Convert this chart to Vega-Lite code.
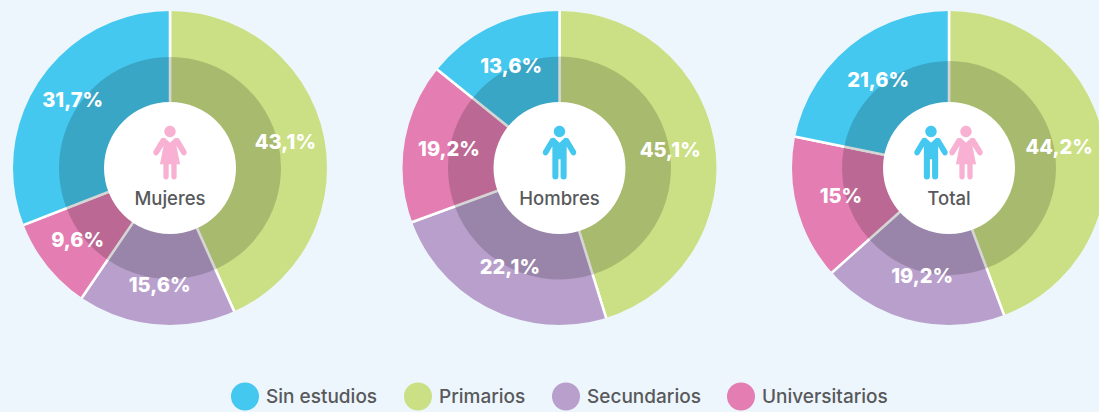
{
"$schema":"https://vega.github.io/schema/vega-lite/v6.json",
"background":"#EDF6FC",
"padding":{"left":3,"top":1,"right":0,"bottom":20},
"datasets":{
"niveles":[
{"grupo":"Mujeres","nivel":"Primarios","orden":1,"porcion":43.3,"etiqueta":"43,1%"},
{"grupo":"Mujeres","nivel":"Secundarios","orden":2,"porcion":16.2,"etiqueta":"15,6%"},
{"grupo":"Mujeres","nivel":"Universitarios","orden":3,"porcion":9.6,"etiqueta":"9,6%"},
{"grupo":"Mujeres","nivel":"Sin estudios","orden":4,"porcion":30.9,"etiqueta":"31,7%"},
{"grupo":"Hombres","nivel":"Primarios","orden":1,"porcion":45.2,"etiqueta":"45,1%"},
{"grupo":"Hombres","nivel":"Secundarios","orden":2,"porcion":24.2,"etiqueta":"22,1%"},
{"grupo":"Hombres","nivel":"Universitarios","orden":3,"porcion":16.4,"etiqueta":"19,2%"},
{"grupo":"Hombres","nivel":"Sin estudios","orden":4,"porcion":14.2,"etiqueta":"13,6%"},
{"grupo":"Total","nivel":"Primarios","orden":1,"porcion":44.3,"etiqueta":"44,2%"},
{"grupo":"Total","nivel":"Secundarios","orden":2,"porcion":19.1,"etiqueta":"19,2%"},
{"grupo":"Total","nivel":"Universitarios","orden":3,"porcion":14.8,"etiqueta":"15%"},
{"grupo":"Total","nivel":"Sin estudios","orden":4,"porcion":21.8,"etiqueta":"21,6%"}
],
"centros":[{"grupo":"Mujeres"},{"grupo":"Hombres"},{"grupo":"Total"}]
},
"config":{"view":{"stroke":null}},
"resolve":{"scale":{"color":"shared"},"legend":{"color":"shared"}},
"spacing":55.5,
"hconcat":[
{"width":314,"height":314,"layer":[
{"data":{"name":"niveles"},"transform":[{"filter":"datum.grupo==='Mujeres'"}],
"mark":{"type":"arc","radius":159,"radius2":60,"stroke":"#ffffff","strokeWidth":2.5},
"encoding":{"theta":{"field":"porcion","type":"quantitative","stack":true},"order":{"field":"orden","type":"ordinal"},
"color":{"field":"nivel","type":"nominal","scale":{"domain":["Sin estudios","Primarios","Secundarios","Universitarios"],"range":["#45C8EF","#CBE084","#B9A0CC","#E37DB2"]},
"legend":{"orient":"none","direction":"horizontal","columns":4,"legendX":218,"legendY":371.5,"title":null,"symbolType":"circle","symbolSize":784,"symbolStrokeWidth":0,"symbolOpacity":1,"labelFont":"Inter","labelFontSize":19,"labelFontWeight":500,"labelColor":"#58595B","labelOffset":7,"columnPadding":26,"padding":0}}}},
{"data":{"name":"centros"},"transform":[{"filter":"datum.grupo==='Mujeres'"}],"mark":{"type":"point","shape":"circle","filled":false,"size":101124,"stroke":"#EDF6FC","strokeWidth":4,"opacity":1},"encoding":{}},
{"data":{"name":"niveles"},"transform":[{"filter":"datum.grupo==='Mujeres'"}],
"mark":{"type":"arc","radius":111,"radius2":60,"fill":"#000000","opacity":0.17},
"encoding":{"theta":{"field":"porcion","type":"quantitative","stack":true},"order":{"field":"orden","type":"ordinal"},"detail":{"field":"nivel"}}},
{"data":{"name":"niveles"},"transform":[{"filter":"datum.grupo==='Mujeres'"}],
"mark":{"type":"text","radius":118,"font":"Inter","fontSize":20,"fontWeight":800,"fill":"#ffffff"},
"encoding":{"theta":{"field":"porcion","type":"quantitative","stack":true},"order":{"field":"orden","type":"ordinal"},"detail":{"field":"nivel"},"text":{"field":"etiqueta"}}},
{"data":{"name":"centros"},"transform":[{"filter":"datum.grupo==='Mujeres'"}],"mark":{"type":"point","shape":"circle","filled":true,"size":17424,"fill":"#ffffff","opacity":1},"encoding":{}},
{"data":{"name":"centros"},"transform":[{"filter":"datum.grupo==='Mujeres'"}],"mark":{"type":"point","filled":true,"opacity":1,"size":2809,"fill":"#F8B0D3","yOffset":-15,"shape":"M0,-0.39 L0.2,-0.58 L0.33,-0.56 L0.62,-0.08 Q0.66,0.04 0.55,0.09 Q0.47,0.11 0.43,0.03 L0.24,-0.27 L0.38,0.42 L0.25,0.42 L0.25,0.9 Q0.25,1 0.15,1 Q0.05,1 0.05,0.9 L0.05,0.42 L-0.05,0.42 L-0.05,0.9 Q-0.05,1 -0.15,1 Q-0.25,1 -0.25,0.9 L-0.25,0.42 L-0.38,0.42 L-0.24,-0.27 L-0.43,0.03 Q-0.47,0.11 -0.55,0.09 Q-0.66,0.04 -0.62,-0.08 L-0.33,-0.56 L-0.2,-0.58 Z M0.215,-0.81 C0.215,-0.692 0.118,-0.595 0,-0.595 C-0.118,-0.595 -0.215,-0.692 -0.215,-0.81 C-0.215,-0.928 -0.118,-1.025 0,-1.025 C0.118,-1.025 0.215,-0.928 0.215,-0.81 Z"},"encoding":{}},
{"data":{"name":"centros"},"transform":[{"filter":"datum.grupo==='Mujeres'"}],"mark":{"type":"text","dy":31,"font":"Inter","fontSize":18.5,"fontWeight":500,"fill":"#58595B"},"encoding":{"text":{"field":"grupo"}}}
]},
{"width":314,"height":314,"layer":[
{"data":{"name":"niveles"},"transform":[{"filter":"datum.grupo==='Hombres'"}],
"mark":{"type":"arc","radius":159,"radius2":60,"stroke":"#ffffff","strokeWidth":2.5},
"encoding":{"theta":{"field":"porcion","type":"quantitative","stack":true},"order":{"field":"orden","type":"ordinal"},
"color":{"field":"nivel","type":"nominal","scale":{"domain":["Sin estudios","Primarios","Secundarios","Universitarios"],"range":["#45C8EF","#CBE084","#B9A0CC","#E37DB2"]}}}},
{"data":{"name":"centros"},"transform":[{"filter":"datum.grupo==='Hombres'"}],"mark":{"type":"point","shape":"circle","filled":false,"size":101124,"stroke":"#EDF6FC","strokeWidth":4,"opacity":1},"encoding":{}},
{"data":{"name":"niveles"},"transform":[{"filter":"datum.grupo==='Hombres'"}],
"mark":{"type":"arc","radius":111.5,"radius2":60,"fill":"#000000","opacity":0.17},
"encoding":{"theta":{"field":"porcion","type":"quantitative","stack":true},"order":{"field":"orden","type":"ordinal"},"detail":{"field":"nivel"}}},
{"data":{"name":"niveles"},"transform":[{"filter":"datum.grupo==='Hombres'"}],
"mark":{"type":"text","radius":112,"font":"Inter","fontSize":20,"fontWeight":800,"fill":"#ffffff"},
"encoding":{"theta":{"field":"porcion","type":"quantitative","stack":true},"order":{"field":"orden","type":"ordinal"},"detail":{"field":"nivel"},"text":{"field":"etiqueta"}}},
{"data":{"name":"centros"},"transform":[{"filter":"datum.grupo==='Hombres'"}],"mark":{"type":"point","shape":"circle","filled":true,"size":17424,"fill":"#ffffff","opacity":1},"encoding":{}},
{"data":{"name":"centros"},"transform":[{"filter":"datum.grupo==='Hombres'"}],"mark":{"type":"point","filled":true,"opacity":1,"size":2809,"fill":"#45C8EF","yOffset":-15,"shape":"M0,-0.39 L0.2,-0.58 L0.33,-0.56 L0.62,-0.08 Q0.66,0.04 0.55,0.09 Q0.47,0.11 0.43,0.03 L0.27,-0.25 L0.27,0.88 Q0.27,1 0.155,1 Q0.04,1 0.04,0.88 L0.04,0.24 L-0.04,0.24 L-0.04,0.88 Q-0.04,1 -0.155,1 Q-0.27,1 -0.27,0.88 L-0.27,-0.25 L-0.43,0.03 Q-0.47,0.11 -0.55,0.09 Q-0.66,0.04 -0.62,-0.08 L-0.33,-0.56 L-0.2,-0.58 Z M0.215,-0.81 C0.215,-0.692 0.118,-0.595 0,-0.595 C-0.118,-0.595 -0.215,-0.692 -0.215,-0.81 C-0.215,-0.928 -0.118,-1.025 0,-1.025 C0.118,-1.025 0.215,-0.928 0.215,-0.81 Z"},"encoding":{}},
{"data":{"name":"centros"},"transform":[{"filter":"datum.grupo==='Hombres'"}],"mark":{"type":"text","dy":31,"font":"Inter","fontSize":18.5,"fontWeight":500,"fill":"#58595B"},"encoding":{"text":{"field":"grupo"}}}
]},
{"width":314,"height":314,"layer":[
{"data":{"name":"niveles"},"transform":[{"filter":"datum.grupo==='Total'"}],
"mark":{"type":"arc","radius":159,"radius2":60,"stroke":"#ffffff","strokeWidth":2.5},
"encoding":{"theta":{"field":"porcion","type":"quantitative","stack":true},"order":{"field":"orden","type":"ordinal"},
"color":{"field":"nivel","type":"nominal","scale":{"domain":["Sin estudios","Primarios","Secundarios","Universitarios"],"range":["#45C8EF","#CBE084","#B9A0CC","#E37DB2"]}}}},
{"data":{"name":"centros"},"transform":[{"filter":"datum.grupo==='Total'"}],"mark":{"type":"point","shape":"circle","filled":false,"size":101124,"stroke":"#EDF6FC","strokeWidth":4,"opacity":1},"encoding":{}},
{"data":{"name":"niveles"},"transform":[{"filter":"datum.grupo==='Total'"}],
"mark":{"type":"arc","radius":107,"radius2":60,"fill":"#000000","opacity":0.17},
"encoding":{"theta":{"field":"porcion","type":"quantitative","stack":true},"order":{"field":"orden","type":"ordinal"},"detail":{"field":"nivel"}}},
{"data":{"name":"niveles"},"transform":[{"filter":"datum.grupo==='Total'"}],
"mark":{"type":"text","radius":112,"font":"Inter","fontSize":20,"fontWeight":800,"fill":"#ffffff"},
"encoding":{"theta":{"field":"porcion","type":"quantitative","stack":true},"order":{"field":"orden","type":"ordinal"},"detail":{"field":"nivel"},"text":{"field":"etiqueta"}}},
{"data":{"name":"centros"},"transform":[{"filter":"datum.grupo==='Total'"}],"mark":{"type":"point","shape":"circle","filled":true,"size":17424,"fill":"#ffffff","opacity":1},"encoding":{}},
{"data":{"name":"centros"},"transform":[{"filter":"datum.grupo==='Total'"}],"mark":{"type":"point","filled":true,"opacity":1,"size":2809,"fill":"#45C8EF","xOffset":-18,"yOffset":-15,"shape":"M0,-0.39 L0.2,-0.58 L0.33,-0.56 L0.62,-0.08 Q0.66,0.04 0.55,0.09 Q0.47,0.11 0.43,0.03 L0.27,-0.25 L0.27,0.88 Q0.27,1 0.155,1 Q0.04,1 0.04,0.88 L0.04,0.24 L-0.04,0.24 L-0.04,0.88 Q-0.04,1 -0.155,1 Q-0.27,1 -0.27,0.88 L-0.27,-0.25 L-0.43,0.03 Q-0.47,0.11 -0.55,0.09 Q-0.66,0.04 -0.62,-0.08 L-0.33,-0.56 L-0.2,-0.58 Z M0.215,-0.81 C0.215,-0.692 0.118,-0.595 0,-0.595 C-0.118,-0.595 -0.215,-0.692 -0.215,-0.81 C-0.215,-0.928 -0.118,-1.025 0,-1.025 C0.118,-1.025 0.215,-0.928 0.215,-0.81 Z"},"encoding":{}},
{"data":{"name":"centros"},"transform":[{"filter":"datum.grupo==='Total'"}],"mark":{"type":"point","filled":true,"opacity":1,"size":2809,"fill":"#F8B0D3","xOffset":17,"yOffset":-15,"shape":"M0,-0.39 L0.2,-0.58 L0.33,-0.56 L0.62,-0.08 Q0.66,0.04 0.55,0.09 Q0.47,0.11 0.43,0.03 L0.24,-0.27 L0.38,0.42 L0.25,0.42 L0.25,0.9 Q0.25,1 0.15,1 Q0.05,1 0.05,0.9 L0.05,0.42 L-0.05,0.42 L-0.05,0.9 Q-0.05,1 -0.15,1 Q-0.25,1 -0.25,0.9 L-0.25,0.42 L-0.38,0.42 L-0.24,-0.27 L-0.43,0.03 Q-0.47,0.11 -0.55,0.09 Q-0.66,0.04 -0.62,-0.08 L-0.33,-0.56 L-0.2,-0.58 Z M0.215,-0.81 C0.215,-0.692 0.118,-0.595 0,-0.595 C-0.118,-0.595 -0.215,-0.692 -0.215,-0.81 C-0.215,-0.928 -0.118,-1.025 0,-1.025 C0.118,-1.025 0.215,-0.928 0.215,-0.81 Z"},"encoding":{}},
{"data":{"name":"centros"},"transform":[{"filter":"datum.grupo==='Total'"}],"mark":{"type":"text","dy":31,"font":"Inter","fontSize":18.5,"fontWeight":500,"fill":"#58595B"},"encoding":{"text":{"field":"grupo"}}}
]}
]
}
